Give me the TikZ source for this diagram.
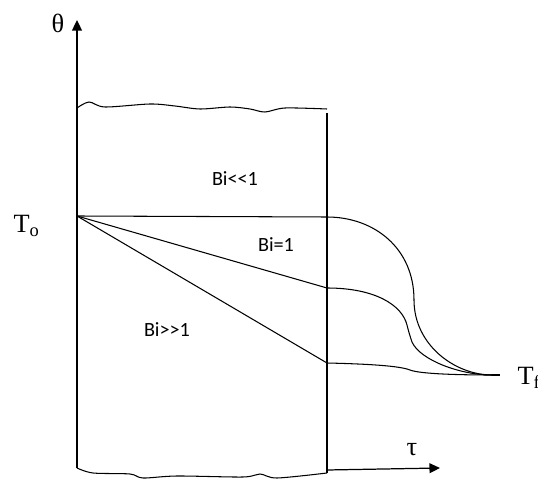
\documentclass[tikz,border=0pt]{standalone}
\usepackage{fontspec}
\setmainfont{Liberation Serif}
\newfontfamily\bifont{Carlito}
\usetikzlibrary{arrows.meta}

\begin{document}
\begin{tikzpicture}[x=0.02cm,y=-0.02cm,line width=0.7pt,
    lbl/.style={font=\fontsize{15}{18}\selectfont,inner sep=0pt},
    bi/.style={font=\bifont\fontsize{11.5}{13}\selectfont,inner sep=0pt},
    curve/.style={line width=0.6pt}]
            \useasboundingbox(0,0)rectangle(538,479);
            %点
            \coordinate(O)at(77,468);
            \coordinate(Y)at(77,20);
            \coordinate(To)at(77,216);
            \coordinate(A)at(327,217);
            \coordinate(B)at(327,288);
            \coordinate(C)at(327,363);
            \coordinate(R1)at(327,113);
            \coordinate(R2)at(327,473);
            \coordinate(X0)at(327,470);
            \coordinate(X)at(440,468);
            \coordinate(F)at(492,375);
            \coordinate(F2)at(500,375);
            %軸
            \draw[-{Triangle[length=6pt,width=5.6pt]}](O)--(Y);
            \draw[-{Triangle[length=6pt,width=5.6pt]}](X0)--(X);
            \draw(R1)--(R2);
            %波線
            \draw[curve]plot[smooth,tension=0.5]coordinates{(77,108)(89,102)(105,107)(150,104)(175,106)(200,109)(230,107)(250,109)(265,112)(285,108)(327,109)};
            \draw[curve]plot[smooth,tension=0.5]coordinates{(77,468)(93,473)(130,474)(143,478)(177,476)(243,477)(260,474)(277,478)(327,473)};
            %直線
            \draw[curve](To)--(A);
            \draw[curve](To)--(B);
            \draw[curve](To)--(C);
            %曲線
            \draw[curve](A)..controls(374,217)and(414,248)..(414,300)..controls(414,345)and(455,375)..(F);
            \draw[curve](B)..controls(375,288)and(402,305)..(407,325)..controls(409,333)and(410,336)..(412,342)..controls(420,360)and(460,375)..(F);
            \draw[curve](C)..controls(370,364)and(400,366)..(410,370)..controls(420,374)and(460,375)..(F);
            \draw[curve](F)--(F2);
            %ラベル
            \node[lbl](theta)at(58,23){θ};
            \node[lbl](tau)at(412,450){τ};
            \node[lbl,anchor=west](To-l)at(13,226){T\textsubscript{o}};
            \node[lbl,anchor=west](Tf-l)at(517,378){T\textsubscript{f}};
            \node[bi](bi1)at(235,179){Bi<<1};
            \node[bi](bi2)at(276,245){Bi=1};
            \node[bi](bi3)at(167,330){Bi>>1};
\end{tikzpicture}
\end{document}
